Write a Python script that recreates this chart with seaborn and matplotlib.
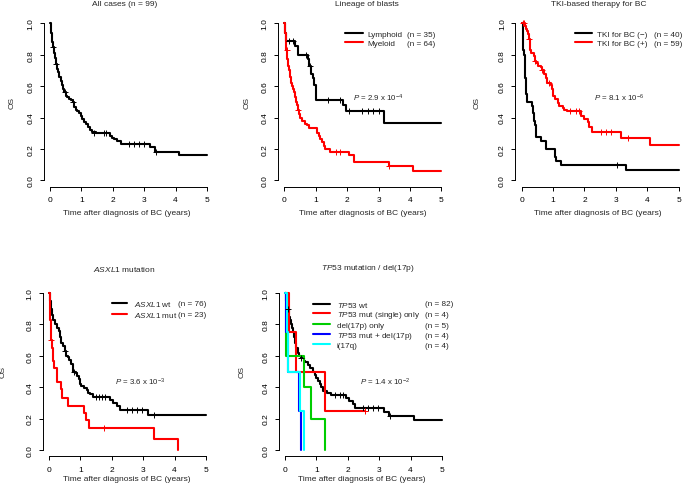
import numpy as np
import matplotlib
matplotlib.use("Agg")
import matplotlib.pyplot as plt
import seaborn as sns

# ---------------- data ----------------
x_ticks = [0, 1, 2, 3, 4, 5]
y_ticks = [0.0, 0.2, 0.4, 0.6, 0.8, 1.0]
y_tick_labels = ["0.0", "0.2", "0.4", "0.6", "0.8", "1.0"]

# Panel 1: all cases
all_t = [0, 0.02, 0.04, 0.06, 0.08, 0.10, 0.12, 0.15, 0.18, 0.22, 0.27, 0.30, 0.34, 0.38, 0.42,
         0.46, 0.50, 0.55, 0.60, 0.66, 0.72, 0.77, 0.82, 0.87, 0.93, 0.98, 1.03, 1.08, 1.14, 1.20,
         1.27, 1.33, 1.45, 1.90, 1.98, 2.05, 2.12, 2.25, 3.17, 3.35, 4.12, 5.00]
all_s = [1.00, 0.97, 0.94, 0.91, 0.88, 0.85, 0.81, 0.78, 0.74, 0.71, 0.69, 0.66, 0.63, 0.61, 0.58,
         0.56, 0.54, 0.53, 0.52, 0.51, 0.50, 0.47, 0.45, 0.44, 0.43, 0.41, 0.39, 0.37, 0.36, 0.34,
         0.32, 0.31, 0.30, 0.28, 0.27, 0.26, 0.25, 0.23, 0.21, 0.18, 0.16, 0.16]
all_ct = [0.10, 0.18, 0.47, 0.74, 1.41, 1.73, 1.78, 2.50, 2.66, 2.82, 3.00, 3.37]
all_cs = [0.85, 0.74, 0.56, 0.50, 0.30, 0.30, 0.30, 0.23, 0.23, 0.23, 0.23, 0.18]

# Panel 2: lineage of blasts
ly_t = [0, 0.02, 0.05, 0.34, 0.45, 0.76, 0.80, 0.85, 0.90, 0.96, 1.01, 1.88, 1.95, 3.16, 5.0]
ly_s = [1.0, 0.94, 0.886, 0.857, 0.80, 0.77, 0.73, 0.68, 0.65, 0.61, 0.514, 0.48, 0.44, 0.367, 0.367]
ly_ct = [0.16, 0.28, 0.70, 0.82, 1.38, 1.76, 2.05, 2.48, 2.66, 2.83, 3.00]
ly_cs = [0.886, 0.886, 0.80, 0.73, 0.514, 0.514, 0.44, 0.44, 0.44, 0.44, 0.44]
my_t = [0, 0.02, 0.04, 0.07, 0.10, 0.12, 0.15, 0.18, 0.20, 0.24, 0.27, 0.30, 0.33, 0.37, 0.40,
        0.43, 0.46, 0.50, 0.58, 0.65, 0.72, 0.78, 1.05, 1.10, 1.15, 1.20, 1.25, 1.30, 1.45, 2.05,
        2.23, 3.32, 4.10, 5.0]
my_s = [1.0, 0.94, 0.88, 0.83, 0.77, 0.73, 0.70, 0.66, 0.62, 0.60, 0.58, 0.56, 0.53, 0.50, 0.48,
        0.45, 0.42, 0.40, 0.375, 0.36, 0.35, 0.33, 0.30, 0.28, 0.26, 0.245, 0.22, 0.20, 0.18, 0.16,
        0.115, 0.09, 0.06, 0.06]
my_ct = [0.08, 0.44, 1.65, 1.76, 3.35]
my_cs = [0.83, 0.45, 0.18, 0.18, 0.09]

# Panel 3: TKI-based therapy
tn_t = [0, 0.03, 0.08, 0.10, 0.12, 0.13, 0.15, 0.18, 0.33, 0.36, 0.40, 0.42, 0.45, 0.47, 0.62,
        0.78, 1.05, 1.10, 1.25, 3.33, 5.0]
tn_s = [1.0, 0.83, 0.80, 0.70, 0.65, 0.60, 0.55, 0.50, 0.475, 0.43, 0.375, 0.35, 0.30, 0.275, 0.25,
        0.20, 0.15, 0.125, 0.10, 0.067, 0.067]
tn_ct = [3.02]
tn_cs = [0.10]
tp_t = [0, 0.10, 0.13, 0.17, 0.20, 0.22, 0.25, 0.28, 0.30, 0.38, 0.42, 0.45, 0.52, 0.60, 0.66,
        0.72, 0.78, 0.80, 0.93, 0.97, 1.00, 1.07, 1.15, 1.20, 1.30, 1.36, 1.45, 1.90, 2.00, 2.10,
        2.15, 2.25, 3.15, 4.10, 5.0]
tp_s = [1.0, 0.983, 0.966, 0.95, 0.93, 0.90, 0.86, 0.83, 0.81, 0.79, 0.76, 0.745, 0.73, 0.72, 0.70,
        0.675, 0.65, 0.62, 0.61, 0.58, 0.54, 0.52, 0.49, 0.475, 0.46, 0.45, 0.44, 0.41, 0.39, 0.37,
        0.34, 0.31, 0.27, 0.225, 0.225]
tp_ct = [0.03, 0.08, 0.23, 0.43, 0.66, 0.88, 1.55, 1.74, 1.84, 2.53, 2.69, 2.84, 3.39]
tp_cs = [1.0, 1.0, 0.90, 0.76, 0.70, 0.62, 0.44, 0.44, 0.44, 0.31, 0.31, 0.31, 0.27]

# Panel 4: ASXL1 mutation
aw_t = [0, 0.02, 0.06, 0.10, 0.14, 0.18, 0.25, 0.32, 0.35, 0.38, 0.45, 0.50, 0.55, 0.60, 0.64,
        0.70, 0.75, 0.78, 0.85, 0.90, 0.95, 1.00, 1.03, 1.10, 1.20, 1.25, 1.30, 1.40, 1.95, 2.05,
        2.15, 2.25, 3.15, 5.0]
aw_s = [1.0, 0.95, 0.90, 0.86, 0.83, 0.80, 0.78, 0.76, 0.72, 0.68, 0.66, 0.63, 0.60, 0.59, 0.575,
        0.55, 0.52, 0.50, 0.49, 0.47, 0.45, 0.42, 0.41, 0.395, 0.38, 0.365, 0.355, 0.34, 0.32, 0.30,
        0.28, 0.255, 0.225, 0.225]
aw_ct = [0.52, 0.80, 1.50, 1.60, 1.70, 1.78, 2.50, 2.65, 2.80, 2.95, 3.35]
aw_cs = [0.63, 0.50, 0.34, 0.34, 0.34, 0.34, 0.255, 0.255, 0.255, 0.255, 0.225]
am_t = [0, 0.02, 0.03, 0.04, 0.06, 0.07, 0.10, 0.12, 0.14, 0.17, 0.25, 0.27, 0.38, 0.40, 0.43,
        0.60, 1.12, 1.17, 1.26, 3.33, 4.10]
am_s = [1.0, 0.96, 0.91, 0.83, 0.78, 0.70, 0.65, 0.61, 0.565, 0.52, 0.48, 0.435, 0.39, 0.35, 0.33,
        0.28, 0.235, 0.19, 0.14, 0.07, 0.0]
am_ct = [0.08, 1.75]
am_cs = [0.70, 0.14]

# Panel 5: TP53 mutation / del(17p)
tw_t = [0, 0.02, 0.05, 0.12, 0.15, 0.20, 0.22, 0.25, 0.30, 0.33, 0.36, 0.40, 0.45, 0.50, 0.60,
        0.65, 0.72, 0.80, 0.88, 0.95, 1.00, 1.05, 1.10, 1.15, 1.20, 1.35, 1.45, 1.95, 2.05, 2.15,
        2.22, 3.15, 3.30, 4.10, 5.0]
tw_s = [1.0, 0.95, 0.90, 0.85, 0.83, 0.80, 0.78, 0.75, 0.72, 0.68, 0.65, 0.62, 0.60, 0.585, 0.57,
        0.56, 0.54, 0.52, 0.50, 0.48, 0.46, 0.44, 0.42, 0.40, 0.375, 0.36, 0.35, 0.33, 0.31, 0.29,
        0.27, 0.245, 0.215, 0.19, 0.19]
tw_ct = [0.10, 0.52, 1.60, 1.75, 1.85, 2.50, 2.65, 2.80, 2.95, 3.35]
tw_cs = [0.90, 0.585, 0.35, 0.35, 0.35, 0.27, 0.27, 0.27, 0.27, 0.215]
ts_t = [0, 0.14, 0.34, 1.28, 2.55]
ts_s = [1.0, 0.75, 0.50, 0.25, 0.25]
ts_ct = [2.55]
ts_cs = [0.25]
dl_t = [0, 0.03, 0.62, 0.82, 1.28]
dl_s = [1.0, 0.60, 0.40, 0.20, 0.0]
bl_t = [0, 0.02, 0.10, 0.45, 0.51]
bl_s = [1.0, 0.75, 0.50, 0.25, 0.0]
iq_t = [0, 0.06, 0.11, 0.48, 0.60]
iq_s = [1.0, 0.75, 0.50, 0.25, 0.0]

titles = ["All cases (n = 99)", "Lineage of blasts", "TKI-based therapy for BC",
          "$\\mathit{ASXL1}$ mutation", "$\\mathit{TP53}$ mutation / del(17p)"]
lin_names = ["Lymphoid", "Myeloid"]
lin_n = ["(n = 35)", "(n = 64)"]
tki_names = ["TKI for BC (\u2212)", "TKI for BC (+)"]
tki_n = ["(n = 40)", "(n = 59)"]
asx_names = ["$\\mathit{ASXL1}$ wt", "$\\mathit{ASXL1}$ mut"]
asx_n = ["(n = 76)", "(n = 23)"]
tp_names = ["$\\mathit{TP53}$ wt", "$\\mathit{TP53}$ mut (single) only", "del(17p) only",
            "$\\mathit{TP53}$ mut + del(17p)", "i(17q)"]
tp_n = ["(n = 82)", "(n = 4)", "(n = 5)", "(n = 4)", "(n = 4)"]
p_texts = ["$\\mathit{P}$ = 2.9 x 10$^{\u22124}$", "$\\mathit{P}$ = 8.1 x 10$^{\u22126}$",
           "$\\mathit{P}$ = 3.6 x 10$^{\u22123}$", "$\\mathit{P}$ = 1.4 x 10$^{\u22122}$"]

# ---------------- style ----------------
sns.set_theme(style="white")
plt.rcParams['font.family'] = ['Liberation Sans', 'DejaVu Sans']
plt.rcParams['mathtext.fontset'] = 'custom'
plt.rcParams['mathtext.rm'] = 'Liberation Sans'
plt.rcParams['mathtext.it'] = 'Liberation Sans:italic'
plt.rcParams['mathtext.bf'] = 'Liberation Sans:bold'

W, H = 685, 485
FS = 6.0
LFS = 5.85
fig = plt.figure(figsize=(W / 100, H / 100), dpi=100)
BOX = 169.6


def fx(x):
    return x / W


def fy(y):
    return 1 - y / H


def make_ax(left, top):
    return fig.add_axes([left / W, 1 - (top + BOX) / H, BOX / W, BOX / H])


def km(ax, t, s, ct, cs, color, label):
    sns.lineplot(x=np.array(t), y=np.array(s), drawstyle='steps-post', color=color, lw=1.5,
                 estimator=None, sort=False, ax=ax, label=label)
    if len(ct):
        sns.scatterplot(x=np.array(ct), y=np.array(cs), marker='+', color=color, s=22,
                        linewidth=0.7, ax=ax, zorder=4)


def style(ax):
    ax.set_xlim(-0.2, 5.2)
    ax.set_ylim(-0.04, 1.04)
    ax.set_xticks(x_ticks)
    ax.set_xticklabels([str(v) for v in x_ticks])
    ax.set_yticks(y_ticks)
    ax.set_yticklabels(y_tick_labels, rotation=90, va='center', ha='right')
    for sp in ['top', 'right']:
        ax.spines[sp].set_visible(False)
    for sp in ['left', 'bottom']:
        ax.spines[sp].set_color('black')
        ax.spines[sp].set_linewidth(0.7)
    ax.spines['left'].set_bounds(0, 1)
    ax.spines['bottom'].set_bounds(0, 5)
    ax.tick_params(direction='out', length=3.2, width=0.7, pad=3.5, labelsize=FS,
                   colors='black', left=True, bottom=True)
    ax.grid(False)
    ax.set_xlabel('')
    ax.set_ylabel('')
    ax.patch.set_alpha(0)


def legend(ax, names, nlabels, x_handle, y_top, hl, htp, ls, n_x):
    h, _ = ax.get_legend_handles_labels()
    leg = ax.legend(h, names, loc='upper left', bbox_to_anchor=(fx(x_handle), fy(y_top)),
                    bbox_transform=fig.transFigure, frameon=False, fontsize=LFS,
                    handlelength=hl, handletextpad=htp, labelspacing=ls,
                    borderpad=0, borderaxespad=0)
    for line in leg.get_lines():
        line.set_linewidth(1.5)
    return leg, nlabels, n_x


axes_pos = [(43.7, 18.0), (278.0, 18.0), (515.4, 18.0), (42.7, 287.7), (278.7, 287.7)]
axs = [make_ax(l, t) for l, t in axes_pos]

# Panel 1
km(axs[0], all_t, all_s, all_ct, all_cs, 'black', None)
# Panel 2
km(axs[1], ly_t, ly_s, ly_ct, ly_cs, 'black', lin_names[0])
km(axs[1], my_t, my_s, my_ct, my_cs, 'red', lin_names[1])
# Panel 3
km(axs[2], tn_t, tn_s, tn_ct, tn_cs, 'black', tki_names[0])
km(axs[2], tp_t, tp_s, tp_ct, tp_cs, 'red', tki_names[1])
# Panel 4
km(axs[3], aw_t, aw_s, aw_ct, aw_cs, 'black', asx_names[0])
km(axs[3], am_t, am_s, am_ct, am_cs, 'red', asx_names[1])
# Panel 5
km(axs[4], tw_t, tw_s, tw_ct, tw_cs, 'black', tp_names[0])
km(axs[4], ts_t, ts_s, ts_ct, ts_cs, 'red', tp_names[1])
km(axs[4], dl_t, dl_s, [], [], '#00CD00', tp_names[2])
km(axs[4], bl_t, bl_s, [], [], '#0000FF', tp_names[3])
km(axs[4], iq_t, iq_s, [], [], '#00FFFF', tp_names[4])

for ax in axs:
    style(ax)
if axs[0].get_legend() is not None:
    axs[0].get_legend().remove()

legs = [
    legend(axs[1], lin_names, lin_n, 345, 31.0, 2.2, 0.6, 0.2, 406.7),
    legend(axs[2], tki_names, tki_n, 575, 31.0, 2.1, 0.6, 0.2, 654.3),
    legend(axs[3], asx_names, asx_n, 111.7, 300.0, 1.9, 0.85, 0.2, 178.5),
    legend(axs[4], tp_names, tp_n, 313.3, 300.5, 2.1, 0.8, 0.1, 424.5),
]

# P values
PFS = 5.7
axs[1].text(2.2, 0.53, p_texts[0], fontsize=PFS, va='center', ha='left')
axs[2].text(2.3, 0.53, p_texts[1], fontsize=PFS, va='center', ha='left')
axs[3].text(2.1, 0.44, p_texts[2], fontsize=PFS, va='center', ha='left')
axs[4].text(2.39, 0.44, p_texts[3], fontsize=PFS, va='center', ha='left')

# titles, axis labels
title_pos = [(124.5, 4.5), (367.0, 4.5), (599.0, 4.5), (124.5, 269.0), (368.0, 269.0)]
for (x, y), t in zip(title_pos, titles):
    fig.text(fx(x), fy(y), t, fontsize=FS, ha='center', va='center')
xlab_pos = [(127.0, 214.0), (363.0, 214.0), (598.0, 214.0), (127.0, 479.3), (362.0, 479.5)]
for x, y in xlab_pos:
    fig.text(fx(x), fy(y), "Time after diagnosis of BC (years)", fontsize=FS, ha='center', va='center')
ylab_pos = [(11.7, 103.0), (246.7, 103.0), (476.7, 103.0), (3.5, 372.0), (241.7, 372.0)]
for x, y in ylab_pos:
    fig.text(fx(x), fy(y), "OS", fontsize=FS, ha='center', va='center', rotation=90)

# "(n = ..)" column aligned with legend rows
fig.canvas.draw()
renderer = fig.canvas.get_renderer()
for leg, nlabels, n_x in legs:
    for txt, nl in zip(leg.get_texts(), nlabels):
        bb = txt.get_window_extent(renderer)
        yc = (bb.y0 + bb.y1) / 2
        fig.text(fx(n_x), yc / H, nl, fontsize=LFS, ha='left', va='center')

fig.savefig("out.png", dpi=100)
